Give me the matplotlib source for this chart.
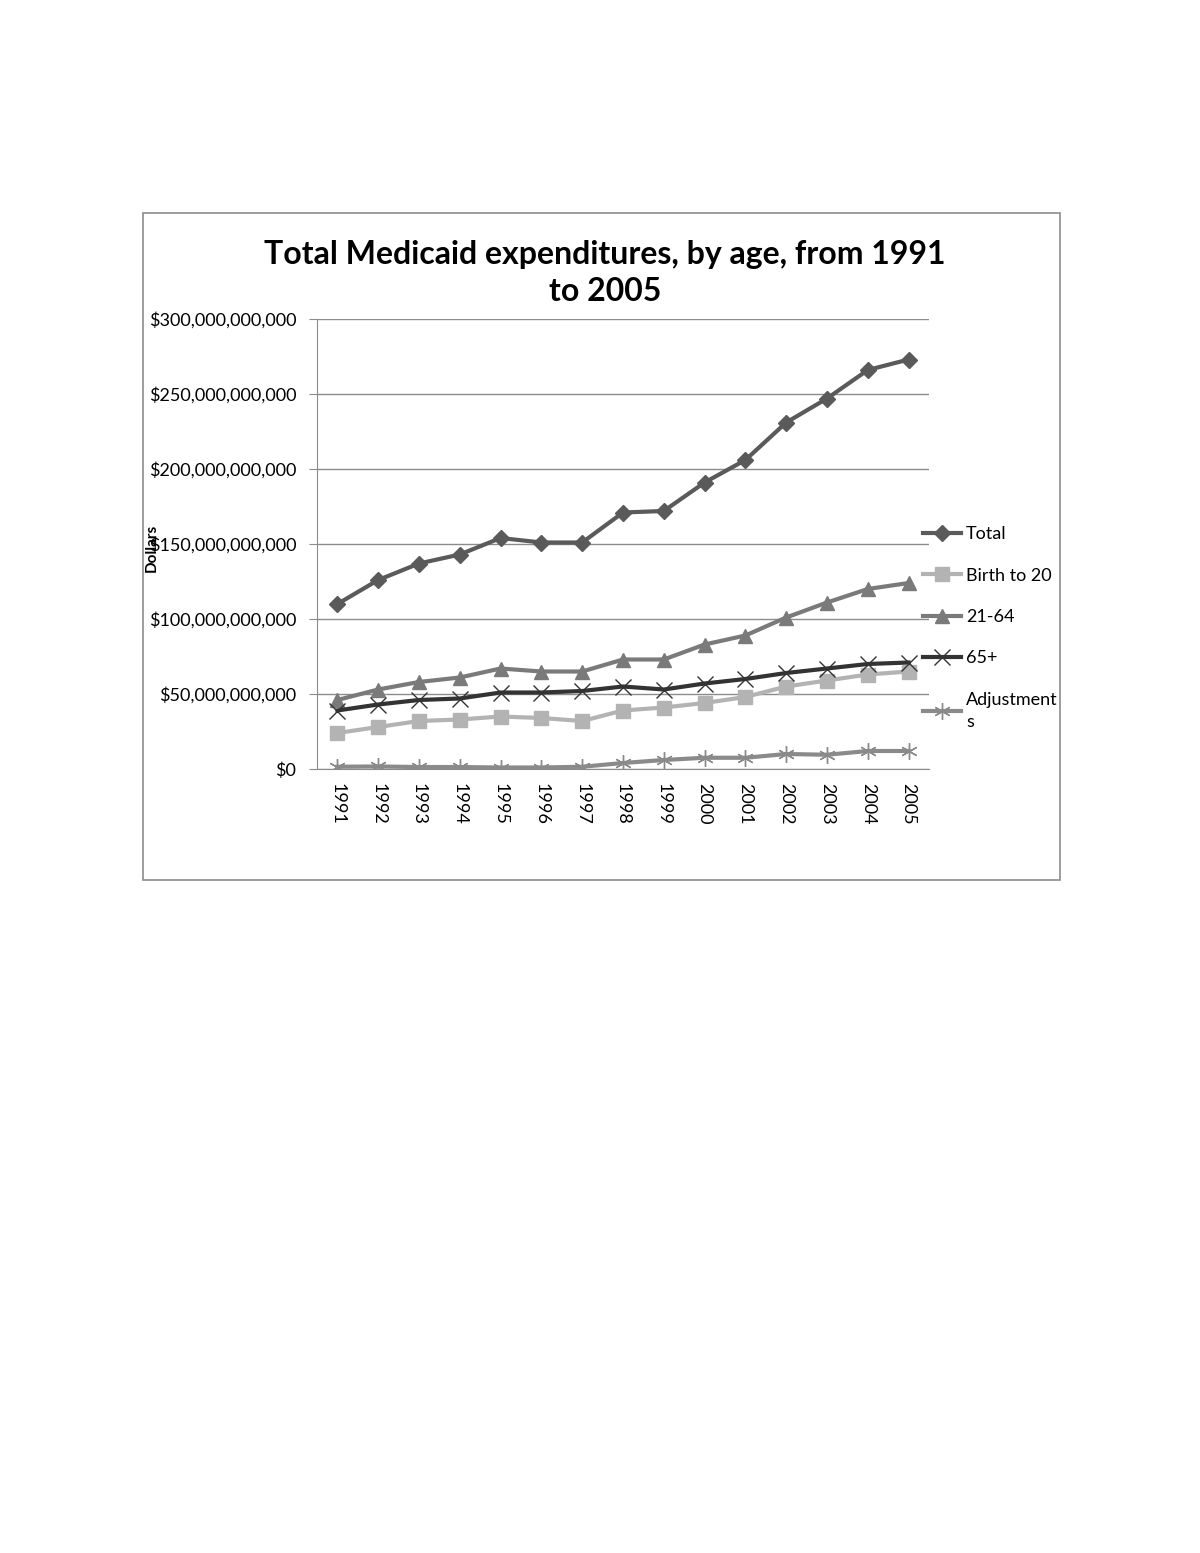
import matplotlib
matplotlib.use('Agg')
import matplotlib.pyplot as plt
from matplotlib.patches import Rectangle
from matplotlib.ticker import FuncFormatter

plt.rcParams['font.family'] = ['Lato', 'DejaVu Sans']

years = ['1991', '1992', '1993', '1994', '1995', '1996', '1997', '1998',
         '1999', '2000', '2001', '2002', '2003', '2004', '2005']
# values in billions of dollars
total = [110, 126, 137, 143, 154, 151, 151, 171, 172, 191, 206, 231, 247, 266, 273]
birth_to_20 = [24, 28, 32, 33, 35, 34, 32, 39, 41, 44, 48, 55, 59, 63, 65]
age_21_64 = [46, 53, 58, 61, 67, 65, 65, 73, 73, 83, 89, 101, 111, 120, 124]
age_65 = [39, 43, 46, 47, 51, 51, 52, 55, 53, 57, 60, 64, 67, 70, 71]
adjustments = [1.5, 1.7, 1.3, 1.3, 1.0, 1.0, 1.5, 4, 6, 7.5, 7.5, 10, 9.5, 12, 12]

series = [
    ('Total', total, '#5a5a5a', 'D', 8),
    ('Birth to 20', birth_to_20, '#b3b3b3', 's', 10),
    ('21-64', age_21_64, '#7a7a7a', '^', 10),
    ('65+', age_65, '#333333', 'x', 11),
    ('Adjustment\ns', adjustments, '#8a8a8a', (6, 2, 0), 12),
]

fig = plt.figure(figsize=(12, 15.53), dpi=100)
fig.patches.append(Rectangle((143 / 1200, 1 - 880 / 1553), 917 / 1200, 667 / 1553,
                             transform=fig.transFigure, fill=False,
                             edgecolor='#8c8c8c', linewidth=1.2))

ax = fig.add_axes([317 / 1200, 1 - 769 / 1553, 612 / 1200, 450 / 1553])
xs = range(len(years))
for name, vals, color, marker, ms in series:
    v = [a * 1e9 for a in vals]
    ax.plot(xs, v, color=color, linewidth=3, marker=marker, markersize=ms,
            markeredgewidth=1.0, markeredgecolor=color, label=name)

ax.set_xlim(-0.5, len(years) - 0.5)
ax.set_ylim(0, 300e9)
ax.set_yticks([i * 50e9 for i in range(7)])
ax.yaxis.set_major_formatter(FuncFormatter(lambda v, p: '${:,.0f}'.format(v)))
ax.set_xticks(list(xs))
ax.set_xticklabels(years, rotation=-90, fontsize=13)
ax.tick_params(axis='y', labelsize=13, length=6, color='#8c8c8c', pad=9)
ax.tick_params(axis='x', length=0, pad=10)
ax.grid(axis='y', color='#8c8c8c', linewidth=1)
ax.set_axisbelow(True)
for s in ['top', 'right']:
    ax.spines[s].set_visible(False)
for s in ['left', 'bottom']:
    ax.spines[s].set_color('#8c8c8c')

fig.text(605 / 1200, 1 - 273 / 1553, 'Total Medicaid expenditures, by age, from 1991\nto 2005',
         ha='center', va='center', fontsize=23, fontweight='bold', linespacing=1.35)
fig.text(152 / 1200, 1 - 548 / 1553, 'Dollars', rotation=90, ha='center', va='center',
         fontsize=11, fontweight='bold')

leg = ax.legend(loc='upper left', bbox_to_anchor=(0.978, 0.555), frameon=False, fontsize=13,
                handlelength=2.1, handletextpad=0.3, labelspacing=1.4, borderaxespad=0)
for t in leg.get_texts():
    t.set_linespacing(1.5)

fig.savefig('out.png', dpi=100)
